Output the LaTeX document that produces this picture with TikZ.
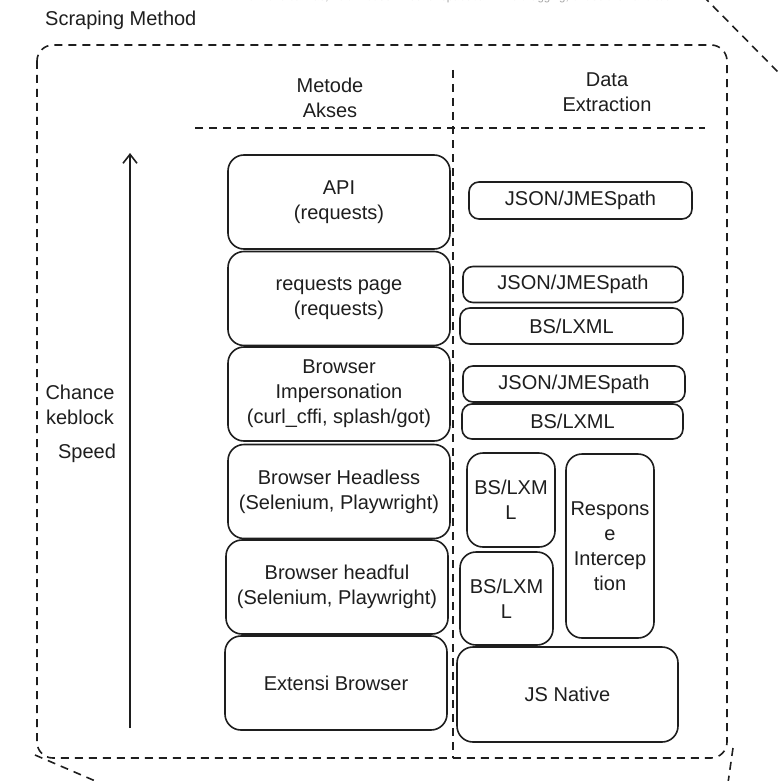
\documentclass[tikz,border=0pt]{standalone}
\usepackage{fontspec}
\setmainfont{Liberation Sans}
\usetikzlibrary{arrows.meta}
\pgfdeclarelayer{edgelayer}
\pgfdeclarelayer{nodelayer}
\pgfsetlayers{edgelayer,nodelayer,main}
\definecolor{ink}{HTML}{1E1E1E}
\newcommand{\handfont}{\fontsize{20}{25}\selectfont}
\tikzstyle{none}=[inner sep=0pt,text=ink,font=\handfont,align=center]
\tikzstyle{hint}=[inner sep=0pt,text=black!35,font=\fontsize{11.5}{14}\selectfont]
\tikzstyle{method}=[rectangle,rounded corners=16pt,draw=ink,line width=1.6pt,fill=white,text=ink,font=\handfont,align=center,inner sep=0pt,minimum width=222pt,minimum height=94pt]
\tikzstyle{extract}=[rectangle,rounded corners=10pt,draw=ink,line width=1.6pt,fill=white,text=ink,font=\handfont,align=center,inner sep=0pt]
\tikzstyle{frame}=[draw=ink,line width=1.6pt,dash pattern=on 8pt off 6pt,rounded corners=16pt]
\tikzstyle{divider}=[draw=ink,line width=1.6pt,dash pattern=on 8pt off 6pt]
\tikzstyle{speed}=[-{Straight Barb[length=9pt,width=14pt]},draw=ink,line width=1.6pt]

\begin{document}
\begin{tikzpicture}[x=1pt,y=-1pt]
	\useasboundingbox (0, 0) rectangle (781, 781);
	\begin{pgfonlayer}{nodelayer}
		\node [style=hint, anchor=base] (20) at (458, 1) {To move canvas, hold mouse wheel or spacebar while dragging, or use the hand tool};
		\node [style=none, anchor=west] (0) at (45, 20) {Scraping Method};
		\node [style=none] (1) at (330, 97.5) {Metode\\Akses};
		\node [style=none] (2) at (607, 92.5) {Data\\Extraction};
		\node [style=none] (3) at (80, 404.5) {Chance\\keblock};
		\node [style=none] (4) at (87, 453) {Speed};
		\node [style=method] (5) at (339, 202) {API\\(requests)};
		\node [style=method] (6) at (339, 298.5) {requests page\\(requests)};
		\node [style=method] (7) at (339, 394) {Browser\\Impersonation\\(curl\_cffi, splash/got)};
		\node [style=method] (8) at (339, 491.5) {Browser Headless\\(Selenium, Playwright)};
		\node [style=method] (9) at (337, 587) {Browser headful\\(Selenium, Playwright)};
		\node [style=method] (10) at (336, 683) {Extensi Browser};
		\node [style=extract, minimum width=223pt, minimum height=37pt] (11) at (580.5, 200.5) {JSON/JMESpath};
		\node [style=extract, minimum width=220pt, minimum height=36pt] (12) at (573, 284.5) {JSON/JMESpath};
		\node [style=extract, minimum width=223pt, minimum height=36pt] (13) at (571.5, 326) {BS/LXML};
		\node [style=extract, minimum width=222pt, minimum height=36pt] (14) at (574, 384) {JSON/JMESpath};
		\node [style=extract, minimum width=221pt, minimum height=35pt] (15) at (572.5, 421.5) {BS/LXML};
		\node [style=extract, rounded corners=16pt, minimum width=88pt, minimum height=94pt] (16) at (511, 500) {BS/LXM\\L};
		\node [style=extract, rounded corners=16pt, minimum width=88pt, minimum height=184pt] (17) at (610, 546) {Respons\\e\\Intercep\\tion};
		\node [style=extract, rounded corners=16pt, minimum width=93pt, minimum height=93pt] (18) at (506.5, 598.5) {BS/LXM\\L};
		\node [style=extract, rounded corners=16pt, minimum width=221pt, minimum height=95pt] (19) at (567.5, 694.5) {JS Native};
	\end{pgfonlayer}
	\begin{pgfonlayer}{edgelayer}
		\coordinate (c0) at (453, 70);
		\coordinate (c1) at (453, 758);
		\coordinate (c2) at (195, 128);
		\coordinate (c3) at (705, 128);
		\coordinate (c4) at (130, 728);
		\coordinate (c5) at (130, 153);
		\coordinate (c6) at (37, 45);
		\coordinate (c7) at (727, 758);
		\coordinate (c8) at (703, -4);
		\coordinate (c9) at (779, 73);
		\coordinate (c10) at (35, 755);
		\coordinate (c11) at (100, 783);
		\coordinate (c12) at (733, 748);
		\coordinate (c13) at (727, 790);
		\draw [style=frame] (c6) rectangle (c7);
		\draw [style=divider] (c0) to (c1);
		\draw [style=divider] (c2) to (c3);
		\draw [style=speed] (c4) to (c5);
		\draw [style=divider] (c8) to (c9);
		\draw [style=divider] (c10) to (c11);
		\draw [style=divider] (c12) to (c13);
	\end{pgfonlayer}
\end{tikzpicture}
\end{document}
